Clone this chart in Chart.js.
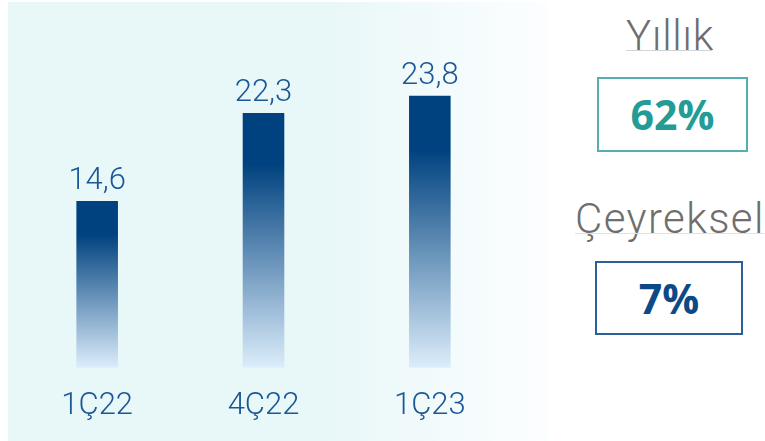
<!DOCTYPE html>
<html>
<head>
<meta charset="utf-8">
<script src="https://cdn.jsdelivr.net/npm/chart.js@4.4.0/dist/chart.umd.min.js"></script>
<style>
  html, body { margin: 0; padding: 0; background: #fff; }
  #page { position: relative; width: 765px; height: 441px; overflow: hidden; background: #fff; }
  #panel {
    position: absolute; left: 8px; top: 2px; width: 540px; height: 439px;
    background: linear-gradient(to right, #e8f7f8 0%, #e8f7f8 58%, #fcfeff 100%);
  }
  #chartBox { position: absolute; left: 0; top: 0; width: 540px; height: 437px; }
  .title {
    position: absolute; font-family: Roboto, sans-serif; font-weight: 300;
    font-size: 42px; line-height: 42px; color: #6e6e6e; white-space: nowrap;
  }
  .rule { position: absolute; height: 1px; background: #d4d4d4; }
  .box {
    position: absolute; box-sizing: border-box; border: 2px solid;
    display: flex; align-items: center; justify-content: center;
    font-family: "Open Sans", sans-serif; font-weight: 700; font-size: 41px; line-height: 1;
  }
</style>
</head>
<body>
<div id="page">
  <div id="panel"></div>
  <div id="chartBox"><canvas id="bars"></canvas></div>

  <div class="title" id="t0" style="left:626px; top:15px; letter-spacing:0.8px;"></div>
  <div class="rule" style="left:626px; top:50px; width:86px;"></div>
  <div class="box" id="b0" style="left:597px; top:77px; width:151px; height:75px; border-color:#55b0ad; color:#239b96;"></div>

  <div class="title" id="t1" style="left:575px; top:198px; letter-spacing:1.4px;"></div>
  <div class="rule" style="left:575px; top:233px; width:190px; background:#e2e2e2;"></div>
  <div class="box" id="b1" style="left:595px; top:261px; width:148px; height:74px; border-color:#2c6198; color:#0c4a87;"></div>
</div>

<script>
// chart data
var categories = ["1Ç22", "4Ç22", "1Ç23"];
var values = [14.6, 22.3, 23.8];

// side summary
var summaryTitles = ["Yıllık", "Çeyreksel"];
var summaryValues = ["62%", "7%"];

document.getElementById("t0").textContent = summaryTitles[0];
document.getElementById("t1").textContent = summaryTitles[1];
document.getElementById("b0").textContent = summaryValues[0];
document.getElementById("b1").textContent = summaryValues[1];

var textBlue = "#1b5796";

function barFill(ctx) {
  var chart = ctx.chart;
  if (!chart.chartArea || ctx.dataIndex === undefined) return "#00427f";
  var y = chart.scales.y;
  var top = y.getPixelForValue(values[ctx.dataIndex]);
  var bottom = y.getPixelForValue(0);
  var g = chart.ctx.createLinearGradient(0, top, 0, bottom);
  g.addColorStop(0, "#00427f");
  g.addColorStop(0.2, "#00427f");
  g.addColorStop(1, "#dcedfb");
  return g;
}

var valueLabels = {
  id: "valueLabels",
  afterDatasetsDraw: function(chart) {
    var c = chart.ctx;
    var meta = chart.getDatasetMeta(0);
    c.save();
    c.font = "300 31px Roboto";
    c.fillStyle = textBlue;
    c.textAlign = "center";
    c.textBaseline = "alphabetic";
    meta.data.forEach(function(bar, i) {
      c.fillText(values[i].toFixed(1).replace(".", ","), bar.x, bar.y - 12);
    });
    c.restore();
  }
};

new Chart(document.getElementById("bars"), {
  type: "bar",
  data: {
    labels: categories,
    datasets: [{
      data: values,
      backgroundColor: barFill,
      borderWidth: 0,
      barPercentage: 0.5,
      categoryPercentage: 0.5
    }]
  },
  options: {
    responsive: true,
    maintainAspectRatio: false,
    animation: false,
    layout: { padding: { left: 14, right: 27, top: 25, bottom: 0 } },
    plugins: { legend: { display: false }, tooltip: { enabled: false } },
    scales: {
      x: {
        grid: { display: false },
        border: { display: false },
        ticks: { color: textBlue, font: { family: "Roboto", size: 31, weight: "300" }, padding: 12 }
      },
      y: { display: false, min: 0, max: 30 }
    }
  },
  plugins: [valueLabels]
});
</script>
</body>
</html>
